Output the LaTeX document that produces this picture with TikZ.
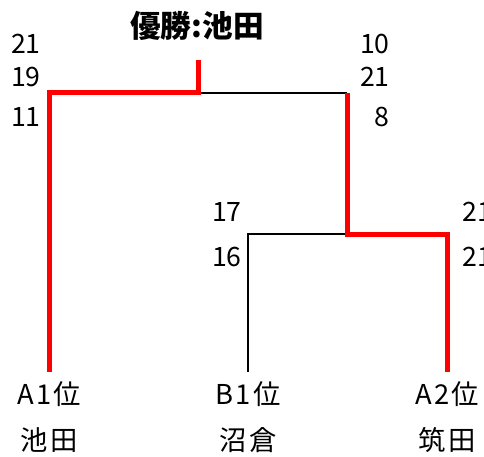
\documentclass[tikz,border=0pt]{standalone}
\usepackage{fontspec}
\setmainfont{Noto Sans CJK JP}
\usetikzlibrary{positioning}

\begin{document}
\begin{tikzpicture}[x=0.75pt,y=-0.75pt,
        win/.style={draw=red, line width=3.75pt},
        lose/.style={draw=black, line width=1.6pt},
        score/.style={font=\fontsize{20}{20}\selectfont, inner sep=0pt},
        seed/.style={font=\fontsize{20.5}{20.5}\selectfont\addfontfeature{LetterSpace=8}, inner sep=0pt, outer ysep=7.5pt}]
            \clip (0,0) rectangle (484,456);

            \node[font=\bfseries\fontsize{23}{23}\selectfont, inner sep=0pt] (champ) at (197,26) {優勝:池田};

            \foreach \n\x\s\t in {a1/49/A1位/池田, b1/248/B1位/沼倉, a2/447/A2位/筑田} {
                \node[seed] (\n) at (\x,394) {\s};
                \node[seed] (\n name) at (\x,440) {\t};
            }

            % scores
            \foreach \y\l\r in {44/21/10, 77/19/21, 117/11/8} {
                \node[score, anchor=east] (sl\y) at (41,\y) {\l};
                \node[score, anchor=east] (sr\y) at (390,\y) {\r};
            }
            \foreach \y\l\r in {212/17/21, 257/16/21} {
                \node[score, anchor=east] (ml\y) at (242,\y) {\l};
                \node[score, anchor=west] (mr\y) at (462,\y) {\r};
            }

            \coordinate (top) at (198,60);
            \coordinate (final) at (198,93);
            \coordinate (semi) at (347,93);
            \coordinate (block) at (347,234);

            \draw[lose] (final) -- (semi);
            \draw[lose] (block) -| (b1.north);
            \draw[win] (a1.north) |- (final) -- (top);
            \draw[win] (semi) -- (block) -| (a2.north);
        \end{tikzpicture}
\end{document}
